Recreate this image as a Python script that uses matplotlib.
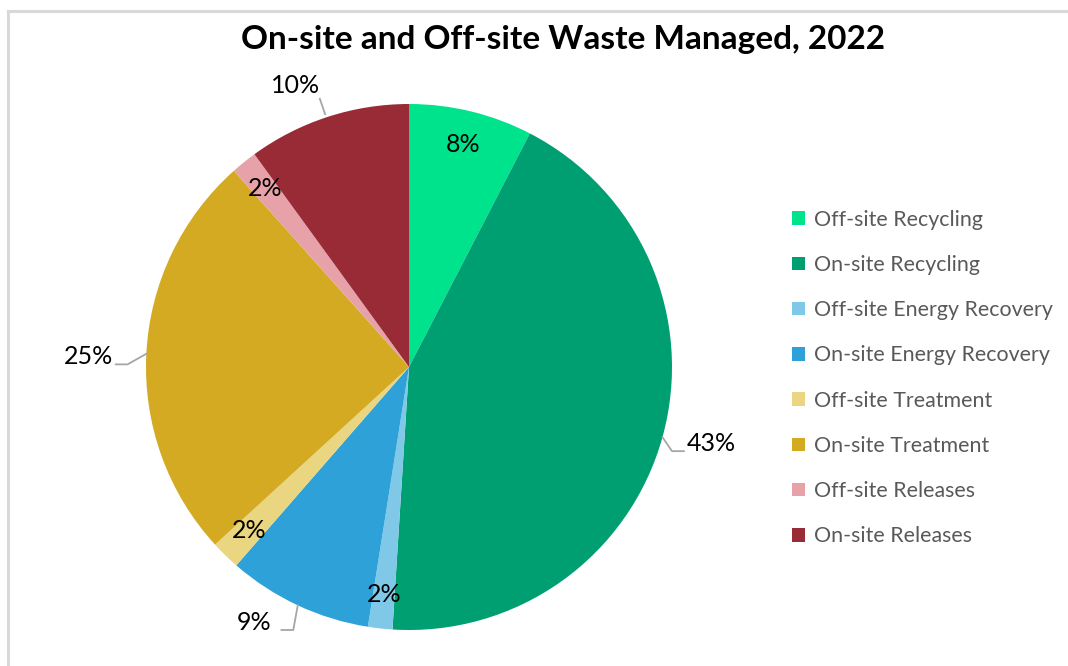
import numpy as np
import matplotlib.pyplot as plt
from matplotlib.lines import Line2D
from matplotlib.patches import Patch

# datos (porcentajes)
categorias = ['Off-site Recycling', 'On-site Recycling', 'Off-site Energy Recovery',
              'On-site Energy Recovery', 'Off-site Treatment', 'On-site Treatment',
              'Off-site Releases', 'On-site Releases']
valores = [7.6, 43.4, 1.5, 8.9, 1.8, 25.2, 1.6, 10.0]
etiquetas = ['8%', '43%', '2%', '9%', '2%', '25%', '2%', '10%']
colores = ['#00E38D', '#009F72', '#80C8E8', '#2EA2D8', '#EAD580', '#D4AA22', '#E6A2A8', '#982B36']

plt.rcParams['font.family'] = ['Lato', 'DejaVu Sans']

fig = plt.figure(figsize=(10.68, 6.66), dpi=100)

# borde del area del grafico (solo arriba e izquierda visibles)
fig.add_artist(Line2D([7.5 / 1068, 7.5 / 1068], [0, 1 - 10.5 / 666], color='#D9D9D9', lw=2.2,
                      transform=fig.transFigure))
fig.add_artist(Line2D([7.5 / 1068, 1], [1 - 10.5 / 666, 1 - 10.5 / 666], color='#D9D9D9', lw=2.2,
                      transform=fig.transFigure))

cx, cy, r = 409, 367, 263
ax = fig.add_axes([(cx - r) / 1068, (666 - cy - r) / 666, 2 * r / 1068, 2 * r / 666])
wedges, _ = ax.pie(valores, colors=colores, startangle=90, counterclock=False, radius=1,
                   wedgeprops=dict(linewidth=0))
ax.set_xlim(-1, 1)
ax.set_ylim(-1, 1)
ax.set_aspect('equal')
ax.axis('off')

# etiquetas: dentro o fuera con linea guia
fuera = {1: (1.15, -0.29), 3: (-0.59, -0.97), 5: (-1.22, 0.04), 7: (-0.43, 1.07)}
for i, w in enumerate(wedges):
    ang = np.deg2rad((w.theta1 + w.theta2) / 2)
    ux, uy = np.cos(ang), np.sin(ang)
    if i in fuera:
        tx, ty = fuera[i]
        ax.text(tx, ty, etiquetas[i], ha='center', va='center', fontsize=18, color='black',
                clip_on=False)
        if i == 7:
            xs = [ux - 0.01, ux - 0.03]
            ys = [uy + 0.01, ty - 0.05]
        else:
            lado = 1 if tx > 0 else -1
            hx = tx - lado * 0.105
            xs = [ux, hx - lado * 0.045, hx]
            ys = [uy, ty - 0.03, ty - 0.03]
        ax.plot(xs, ys, color='#A6A6A6', lw=1.3, clip_on=False)
    else:
        ax.text(0.87 * ux, 0.87 * uy, etiquetas[i], ha='center', va='center', fontsize=18,
                color='black')

fig.text(563 / 1068, 1 - 40 / 666, 'On-site and Off-site Waste Managed, 2022', ha='center',
         va='center', fontsize=24, fontweight='bold', color='black')

handles = [Patch(facecolor=c, edgecolor='none') for c in colores]
fig.legend(handles, categorias, loc='upper left', bbox_to_anchor=(781 / 1068, 1 - 199 / 666),
           frameon=False, fontsize=15.4, labelcolor='#595959', handlelength=0.6, handleheight=0.6,
           handletextpad=0.45, labelspacing=1.18, borderpad=0)

fig.savefig('out.png', dpi=100)
